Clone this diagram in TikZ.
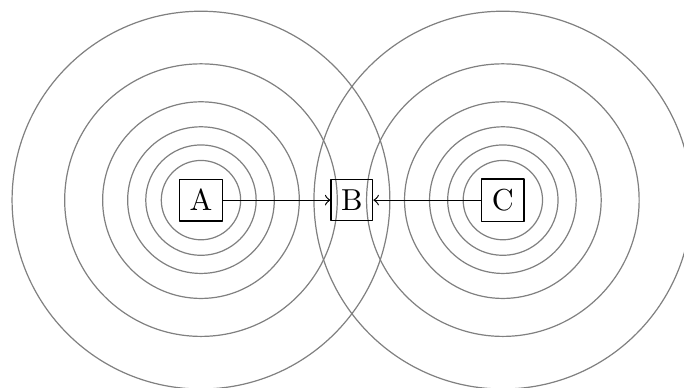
\documentclass[tikz,border=0pt]{standalone}
\begin{document}
\begin{tikzpicture}[>=to,line join=round,line cap=round]
	\useasboundingbox (-2.33,-2.17) rectangle (5.60,2.32);
	\path (0,0) coordinate (OA)
	++(1.75,0) coordinate (OB)
	++(1.75,0) coordinate (OC);
	\foreach \r in {0.46,0.64,0.85,1.14,1.58,2.19}{\draw[gray,thin] (OA) circle(\r) (OC) circle(\r);}
	\node[draw] (A) at (OA) {A};
	\node[draw] (B) at (OB) {B};
	\node[draw] (C) at (OC) {C};
	\draw[->] (A)--(B);
	\draw[->] (C)--(B);
\end{tikzpicture}
\end{document}
